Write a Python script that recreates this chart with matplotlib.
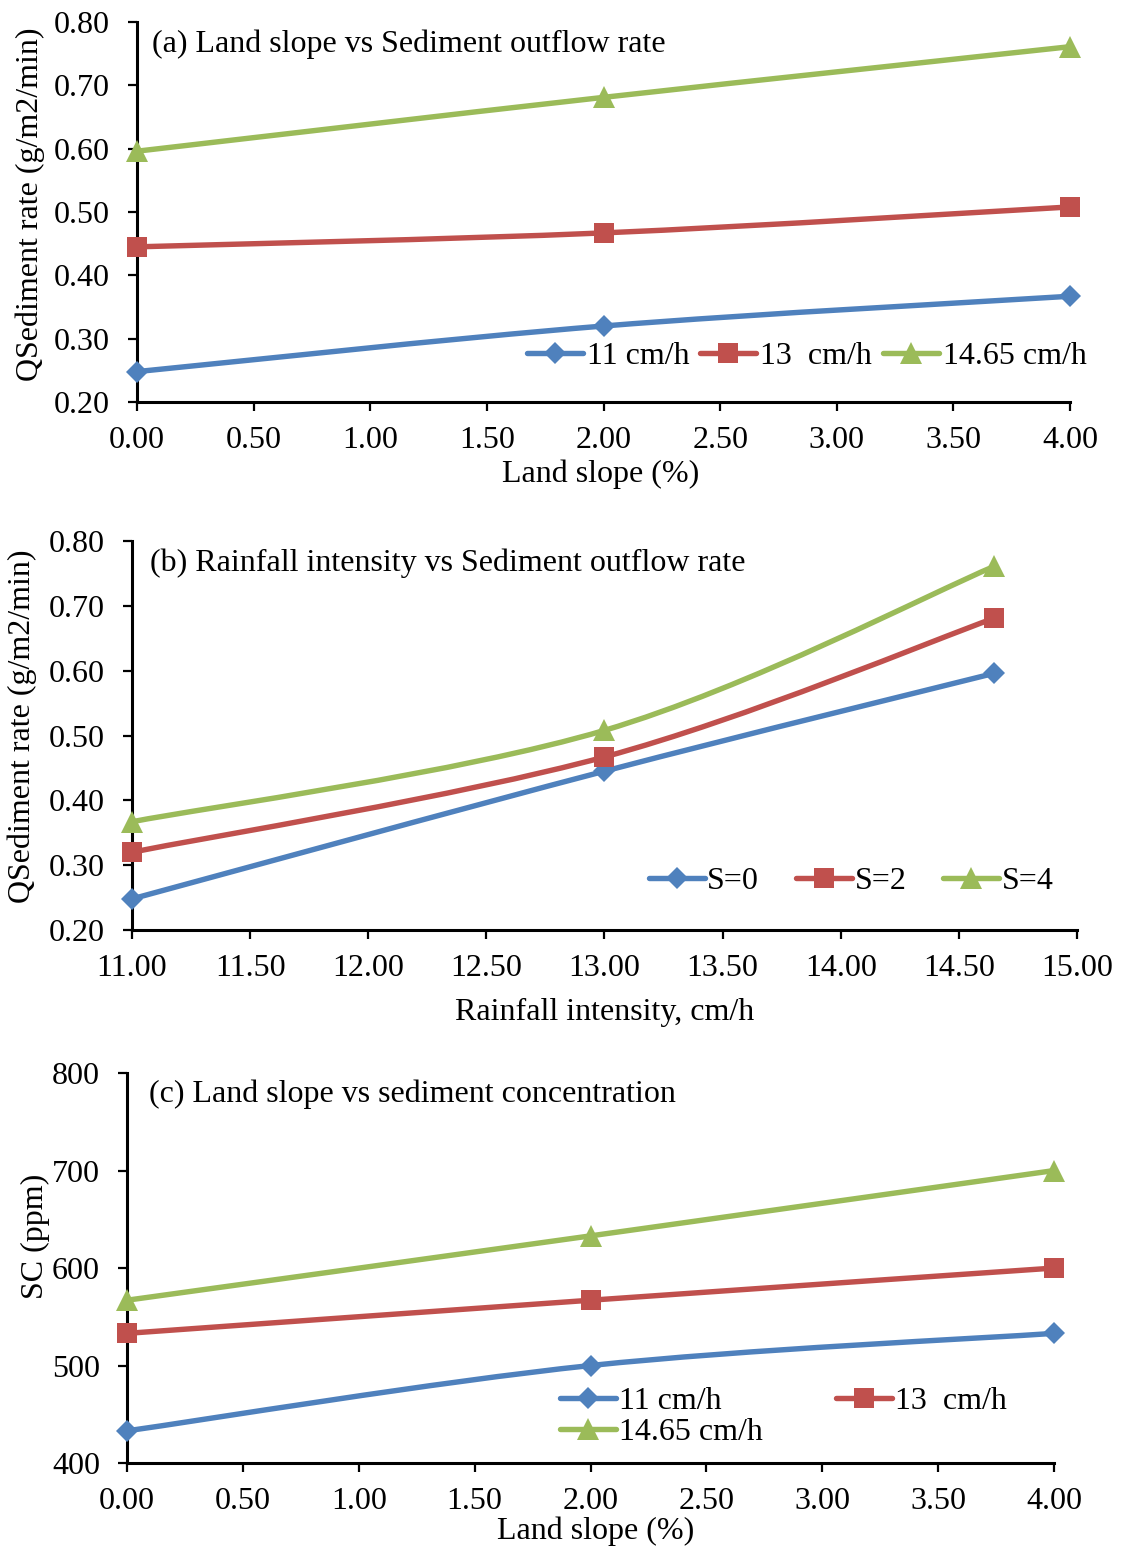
import numpy as np
import matplotlib.pyplot as plt
from matplotlib.path import Path
from matplotlib.patches import PathPatch
from matplotlib.lines import Line2D
from matplotlib.ticker import FormatStrFormatter

plt.rcParams['font.family'] = ['Liberation Serif', 'DejaVu Serif']
plt.rcParams['font.size'] = 23

# data
slope = [0.0, 2.0, 4.0]
rain = [11.0, 13.0, 14.65]
rain_labels = ['11 cm/h', '13  cm/h', '14.65 cm/h']
slope_labels = ['S=0', 'S=2', 'S=4']

q_11 = [0.248, 0.320, 0.367]
q_13 = [0.445, 0.467, 0.508]
q_1465 = [0.596, 0.681, 0.761]

q_s0 = [0.248, 0.445, 0.596]
q_s2 = [0.320, 0.467, 0.681]
q_s4 = [0.367, 0.508, 0.761]

sc_11 = [433, 500, 533]
sc_13 = [533, 567, 600]
sc_1465 = [567, 633, 700]

colors = ['#4F81BD', '#C0504D', '#9BBB59']
markers = ['D', 's', '^']
msizes = [11.5, 14, 15.5]
LW = 3.9
FS = 23


def smooth_path(x, y):
    # smoothed line like excel: cubic bezier, catmull-rom control points
    pts = np.column_stack([x, y]).astype(float)
    n = len(pts)
    verts = [pts[0]]
    codes = [Path.MOVETO]
    for i in range(n - 1):
        p0 = pts[i - 1] if i > 0 else pts[i]
        p1 = pts[i]
        p2 = pts[i + 1]
        p3 = pts[i + 2] if i + 2 < n else pts[i + 1]
        c1 = p1 + (p2 - p0) / 6.0
        c2 = p2 - (p3 - p1) / 6.0
        verts += [c1, c2, p2]
        codes += [Path.CURVE4] * 3
    return Path(verts, codes)


def draw_series(ax, x, y, k):
    ax.add_patch(PathPatch(smooth_path(x, y), facecolor='none', edgecolor=colors[k],
                           lw=LW, capstyle='round', joinstyle='round', zorder=2,
                           clip_on=False))
    ax.plot(x, y, ls='none', marker=markers[k], ms=msizes[k], color=colors[k],
            mec=colors[k], mew=0, zorder=3, clip_on=False)


def legend_handle(k):
    return Line2D([], [], color=colors[k], lw=LW, marker=markers[k],
                  ms=msizes[k], mew=0, solid_capstyle='round')


def style_axes(ax):
    for s in ['top', 'right']:
        ax.spines[s].set_visible(False)
    for s in ['left', 'bottom']:
        ax.spines[s].set_linewidth(2.2)
        ax.spines[s].set_zorder(1)
    ax.tick_params(direction='out', length=6.5, width=1.6, labelsize=FS)
    ax.tick_params(axis='x', pad=11)
    ax.tick_params(axis='y', pad=13)


def place_labels(ax, xl, yl, xpos, ypos):
    ax.set_xlabel(xl, fontsize=FS)
    ax.set_ylabel(yl, fontsize=FS)
    ax.xaxis.set_label_coords(*xpos)
    ax.yaxis.set_label_coords(*ypos)
    ax.xaxis.label.set_va('center')
    ax.yaxis.label.set_va('center')
    ax.yaxis.label.set_ha('center')


fig = plt.figure(figsize=(11.22, 15.48), dpi=100)

# (a)
ax1 = fig.add_axes([0.1221, 0.7403, 0.8316, 0.2455])
for k, y in enumerate([q_11, q_13, q_1465]):
    draw_series(ax1, slope, y, k)
ax1.set_xlim(0, 4)
ax1.set_ylim(0.2, 0.8)
ax1.set_xticks(np.arange(0, 4.01, 0.5))
ax1.set_yticks(np.arange(0.2, 0.81, 0.1))
ax1.xaxis.set_major_formatter(FormatStrFormatter('%.2f'))
ax1.yaxis.set_major_formatter(FormatStrFormatter('%.2f'))
style_axes(ax1)
place_labels(ax1, 'Land slope (%)', 'QSediment rate (g/m2/min)', (0.497, -0.19), (-0.114, 0.521))
ax1.text(0.016, 0.942, '(a) Land slope vs Sediment outflow rate', transform=ax1.transAxes,
         va='center', ha='left', fontsize=FS)
ax1.legend([legend_handle(k) for k in range(3)], rain_labels, ncol=3, frameon=False,
           loc='center', bbox_to_anchor=(0.718, 0.121), handlelength=1.75,
           handletextpad=0.12, columnspacing=0.35, borderpad=0, borderaxespad=0,
           fontsize=FS)

# (b)
ax2 = fig.add_axes([0.1176, 0.3992, 0.8423, 0.2513])
for k, y in enumerate([q_s0, q_s2, q_s4]):
    draw_series(ax2, rain, y, k)
ax2.set_xlim(11, 15)
ax2.set_ylim(0.2, 0.8)
ax2.set_xticks(np.arange(11, 15.01, 0.5))
ax2.set_yticks(np.arange(0.2, 0.81, 0.1))
ax2.xaxis.set_major_formatter(FormatStrFormatter('%.2f'))
ax2.yaxis.set_major_formatter(FormatStrFormatter('%.2f'))
style_axes(ax2)
place_labels(ax2, 'Rainfall intensity, cm/h', 'QSediment rate (g/m2/min)', (0.5, -0.213), (-0.116, 0.524))
ax2.text(0.019, 0.943, '(b) Rainfall intensity vs Sediment outflow rate', transform=ax2.transAxes,
         va='center', ha='left', fontsize=FS)
ax2.legend([legend_handle(k) for k in range(3)], slope_labels, ncol=3, frameon=False,
           loc='center', bbox_to_anchor=(0.761, 0.126), handlelength=1.75,
           handletextpad=0.08, columnspacing=1.15, borderpad=0, borderaxespad=0,
           fontsize=FS)

# (c)
ax3 = fig.add_axes([0.1132, 0.0549, 0.8262, 0.2519])
for k, y in enumerate([sc_11, sc_13, sc_1465]):
    draw_series(ax3, slope, y, k)
ax3.set_xlim(0, 4)
ax3.set_ylim(400, 800)
ax3.set_xticks(np.arange(0, 4.01, 0.5))
ax3.set_yticks(np.arange(400, 801, 100))
ax3.xaxis.set_major_formatter(FormatStrFormatter('%.2f'))
style_axes(ax3)
place_labels(ax3, 'Land slope (%)', 'SC (ppm)', (0.505, -0.176), (-0.099, 0.582))
ax3.text(0.024, 0.946, '(c) Land slope vs sediment concentration', transform=ax3.transAxes,
         va='center', ha='left', fontsize=FS)
order = [0, 2, 1]
ax3.legend([legend_handle(k) for k in order], [rain_labels[k] for k in order], ncol=2,
           frameon=False, loc='center', bbox_to_anchor=(0.708, 0.118), handlelength=1.75,
           handletextpad=0.1, columnspacing=2.3, borderpad=0, borderaxespad=0,
           labelspacing=0.06, fontsize=FS)

fig.savefig('out.png', dpi=100)
